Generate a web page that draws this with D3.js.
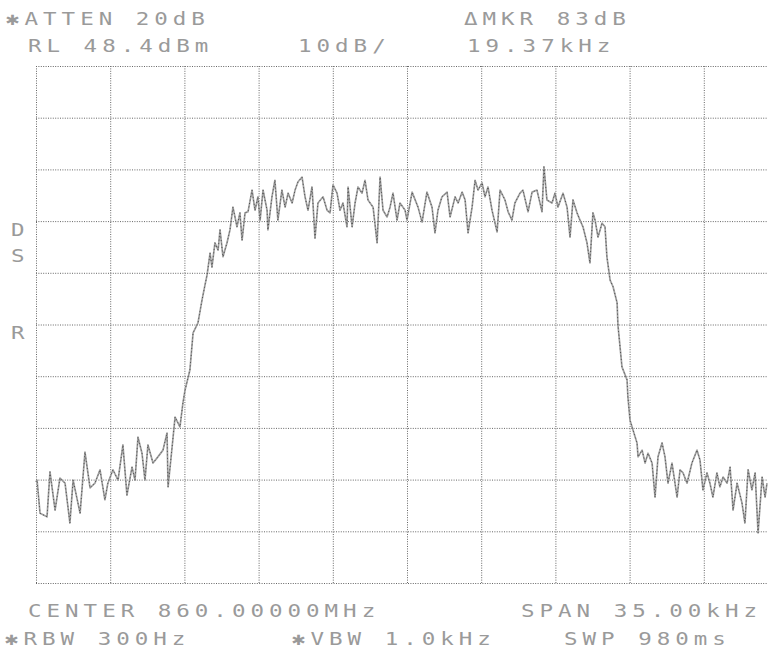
<!DOCTYPE html>
<html>
<head>
<meta charset="utf-8">
<script src="https://cdn.jsdelivr.net/npm/d3@7"></script>
<style>
  html, body { margin: 0; padding: 0; background: #fff; }
  svg { display: block; }
  .lbl { font-family: "DejaVu Sans Mono", "Liberation Mono", monospace; font-size: 18px; fill: #9a9a9a; letter-spacing: 4px; }
</style>
</head>
<body>
<svg id="chart" width="768" height="652"></svg>
<script>
// ---- data ----
const spanKHz = [-17.5, 17.5];          // centre 860 MHz, span 35 kHz
const refLevel = 48.4;                   // dBm (top of screen)
const dbPerDiv = 10;
const xTicks = [-17.5, -14, -10.5, -7, -3.5, 0, 3.5, 7, 10.5, 14, 17.5];
const yTicks = [48.4, 38.4, 28.4, 18.4, 8.4, -1.6, -11.6, -21.6, -31.6, -41.6, -51.6];

const traceFreq = [
  -17.5, -17.45, -17.31, -16.98, -16.84, -16.60, -16.37, -16.13, -15.90, -15.75, -15.42, -15.19, -14.95, -14.72,
  -14.48, -14.25, -14.11, -13.87, -13.63, -13.40, -13.21, -12.97, -12.83, -12.69, -12.50, -12.36, -12.22,
  -11.98, -11.75, -11.51, -11.32, -11.27, -11.08, -10.94, -10.71, -10.57,
  -10.47, -10.24, -10.09, -9.86, -9.67, -9.53, -9.43, -9.29, -9.20, -9.06, -8.91, -8.82, -8.68, -8.49, -8.35,
  -8.21, -8.02, -7.88, -7.78, -7.64, -7.50, -7.31, -7.17, -7.03, -6.93, -6.79, -6.60, -6.56, -6.37, -6.23,
  -6.09, -5.90, -5.75, -5.61, -5.42, -5.28, -5.14, -4.95, -4.81, -4.67, -4.48, -4.34, -4.20, -3.96, -3.77,
  -3.63, -3.49, -3.30, -3.16, -3.02, -2.83, -2.78, -2.59, -2.45, -2.31, -2.12, -1.98, -1.84, -1.60, -1.41,
  -1.27, -1.13, -0.94, -0.80, -0.66, -0.47, -0.33, -0.09,
  0.00, 0.24, 0.52, 0.71, 0.94, 1.18, 1.32, 1.46, 1.65, 1.89, 2.03, 2.27, 2.41, 2.60, 2.74, 2.88, 3.07, 3.21,
  3.35, 3.54, 3.68, 3.82, 4.01, 4.25, 4.39, 4.62, 4.77, 4.95, 5.09, 5.33, 5.47, 5.71, 5.90, 6.13, 6.37, 6.46,
  6.60, 6.84, 6.98, 7.12, 7.36, 7.55, 7.69, 7.83, 8.02, 8.16, 8.30, 8.49, 8.63, 8.77, 8.87, 9.01, 9.20, 9.34,
  9.43, 9.58, 9.72, 9.91, 9.95, 10.14, 10.38, 10.42, 10.52, 10.66, 10.85, 10.90, 11.09, 11.23, 11.37, 11.56,
  11.70, 11.84, 12.03, 12.17, 12.31, 12.50, 12.74, 12.88, 13.02, 13.21, 13.44, 13.68, 13.82, 13.96, 14.15,
  14.29, 14.43, 14.62, 14.76, 14.91, 15.10, 15.24, 15.38, 15.57, 15.80, 15.94, 16.09, 16.27, 16.42, 16.56,
  16.75, 16.89, 16.98
];
const traceLevel = [
  -32.0, -31.7, -38.1, -38.8, -30.1, -37.5, -31.3, -32.3, -40.0, -31.7, -38.1, -26.3, -33.2, -32.3,
  -29.7, -35.5, -32.3, -29.7, -31.7, -24.9, -34.6, -29.2, -31.7, -23.4, -26.5, -31.7, -24.9,
  -28.4, -27.2, -25.9, -22.6, -33.0, -25.3, -19.5, -21.4, -16.8,
  -14.3, -10.4, -3.2, -1.3, 3.1, 6.0, 8.0, 12.2, 9.5, 14.2, 12.8, 16.7, 11.5, 14.2, 16.7,
  21.1, 17.3, 20.0, 14.7, 20.0, 20.2, 24.4, 20.5, 23.1, 18.6, 24.4, 20.5, 16.7, 23.1, 26.3,
  18.6, 24.4, 21.1, 23.8, 21.9, 24.4, 26.0, 26.9, 23.1, 20.5, 25.0, 15.1, 21.9, 23.1, 20.5,
  20.0, 25.4, 23.8, 20.5, 21.9, 17.3, 25.0, 17.3, 21.9, 25.0, 23.8, 26.3, 22.5, 21.1, 14.2,
  26.9, 20.5, 19.2, 21.1, 23.8, 18.6, 21.9, 20.5,
  18.6, 24.0, 21.1, 18.2, 24.0, 21.1, 16.1, 20.5, 23.1, 24.0, 19.2, 23.1, 21.9, 24.0, 22.5, 16.1, 21.1, 26.3,
  24.4, 25.8, 23.1, 25.0, 20.5, 16.3, 24.4, 22.5, 20.2, 18.6, 21.9, 23.8, 24.4, 20.2, 24.0, 24.4, 20.2, 28.9,
  22.5, 21.9, 23.8, 21.1, 23.8, 21.1, 15.3, 22.5, 20.0, 18.6, 17.3, 14.2, 10.3, 20.0, 18.6, 15.3, 18.0, 17.3,
  11.5, 7.0, 5.7, 2.6, -1.7, -9.8, -12.3, -15.6, -20.1, -22.0, -24.5, -27.2, -25.9, -28.4, -26.5, -28.4,
  -35.0, -27.2, -24.5, -27.2, -32.3, -28.4, -35.0, -29.7, -30.3, -32.3, -28.4, -25.9, -27.8, -33.6, -30.3,
  -32.3, -35.0, -30.3, -33.0, -31.1, -32.3, -29.2, -37.5, -32.3, -36.1, -40.0, -29.7, -33.6, -30.3, -41.9,
  -31.1, -35.0, -32.3
];

const headerTop = ["✱ATTEN 20dB", "ΔMKR 83dB"];
const headerSecond = ["RL 48.4dBm", "10dB/", "19.37kHz"];
const footerFirst = ["CENTER 860.00000MHz", "SPAN 35.00kHz"];
const footerSecond = ["✱RBW 300Hz", "✱VBW 1.0kHz", "SWP 980ms"];
const sideLetters = ["D", "S", "R"];

// ---- layout ----
const svg = d3.select("#chart");
const plotLeft = 36, plotTop = 66, plotW = 742, plotH = 517;
const xScale = d3.scaleLinear().domain(spanKHz).range([plotLeft, plotLeft + plotW]);
const yScale = d3.scaleLinear().domain([refLevel - 10 * dbPerDiv, refLevel]).range([plotTop + plotH, plotTop]);

// grid
const grid = svg.append("g");
grid.append("g")
  .attr("transform", `translate(0,${plotTop + plotH})`)
  .call(d3.axisBottom(xScale).tickValues(xTicks).tickSize(-plotH).tickFormat(""))
  .call(g => g.select(".domain").remove());
grid.append("g")
  .attr("transform", `translate(${plotLeft},0)`)
  .call(d3.axisLeft(yScale).tickValues(yTicks).tickSize(-plotW).tickFormat(""))
  .call(g => g.select(".domain").remove());
grid.selectAll("line")
  .attr("stroke", "#666")
  .attr("stroke-width", 1)
  .attr("stroke-dasharray", "1,1.4");

// trace
const pts = traceFreq.map((f, i) => [f, traceLevel[i]]);
const lineGen = d3.line().x(d => xScale(d[0])).y(d => yScale(d[1]));
svg.append("path").datum(pts)
  .attr("d", lineGen).attr("fill", "none")
  .attr("stroke", "#a0a0a0").attr("stroke-width", 1.7).attr("stroke-linejoin", "round");
svg.append("path").datum(pts)
  .attr("d", lineGen).attr("fill", "none")
  .attr("stroke", "#444").attr("stroke-width", 0.9).attr("stroke-dasharray", "1,2.5");

// texts (dot-matrix style: wide monospace glyphs on an 18.6 px character pitch)
function txt(s, px, py) {
  svg.append("text").attr("class", "lbl")
    .attr("transform", `translate(${px},${py}) scale(1.25,1)`)
    .text(s);
}
txt(headerTop[0], 6, 25);
txt(headerTop[1], 464, 25);
txt(headerSecond[0], 28, 52);
txt(headerSecond[1], 298, 52);
txt(headerSecond[2], 467, 52);
txt(footerFirst[0], 28, 617);
txt(footerFirst[1], 521, 617);
txt(footerSecond[0], 5, 645);
txt(footerSecond[1], 292, 645);
txt(footerSecond[2], 564, 645);
txt(sideLetters[0], 11, 236);
txt(sideLetters[1], 11, 262);
txt(sideLetters[2], 11, 339);
</script>
</body>
</html>
